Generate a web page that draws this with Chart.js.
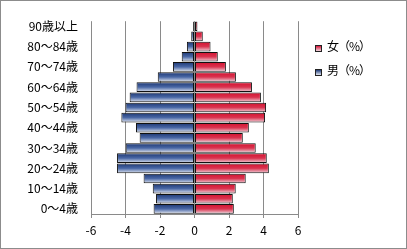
<!DOCTYPE html>
<html>
<head>
<meta charset="utf-8">
<script src="https://cdn.jsdelivr.net/npm/chart.js@4/dist/chart.umd.min.js"></script>
<style>
  html, body { margin: 0; padding: 0; background: #fff; }
  .wrap { position: relative; width: 407px; height: 249px; box-sizing: border-box; border: 1px solid #8c8c8c; }
  .legend { position: absolute; left: 314px; top: 36px; font: 12px "Noto Sans CJK JP", sans-serif; color: #000; }
  .legend div { height: 24px; line-height: 17px; white-space: nowrap; letter-spacing: -1px; }
  .legend span.box { display: inline-block; width: 5px; height: 5px; border: 1px solid #222; margin-right: 5px; vertical-align: -1px; }
</style>
</head>
<body>
<div class="wrap">
  <canvas id="myChart"></canvas>
  <div class="legend">
    <div><span class="box" style="background: linear-gradient(#d8163a, #f0d6de);"></span>女（%）</div>
    <div><span class="box" style="background: linear-gradient(#1e3a78, #e2e7f2);"></span>男（%）</div>
  </div>
</div>
<script>
// 年齢階級（下から上）
const ageGroups = ["0～4歳", "5～9歳", "10～14歳", "15～19歳", "20～24歳", "25～29歳", "30～34歳", "35～39歳", "40～44歳", "45～49歳",
  "50～54歳", "55～59歳", "60～64歳", "65～69歳", "70～74歳", "75～79歳", "80～84歳", "85～89歳", "90歳以上"];
// 男は左側なのでマイナス
const male = [-2.37, -2.23, -2.42, -2.95, -4.49, -4.49, -3.99, -3.18, -3.39, -4.24, -4.0, -3.76, -3.36, -2.13, -1.25, -0.74, -0.44, -0.19, -0.08];
const female = [2.28, 2.22, 2.39, 2.97, 4.31, 4.19, 3.55, 2.8, 3.15, 4.09, 4.15, 3.85, 3.33, 2.4, 1.82, 1.35, 0.93, 0.48, 0.17];
const xTicks = [-6, -4, -2, 0, 2, 4, 6];

const redStops = [[0, "#d4102e"], [0.5, "#da3450"], [1, "#f0d6de"]];
const blueStops = [[0, "#1c3672"], [0.5, "#4a68a6"], [1, "#e2e7f2"]];

// 棒ごとに縦グラデーション
const barFill = (stops) => (ctx) => {
  const chart = ctx.chart;
  const area = chart.chartArea;
  if (!area || !chart.scales.y) return stops[1][1];
  const y = chart.scales.y.getPixelForValue(ctx.dataIndex);
  const h = ((area.bottom - area.top) / ageGroups.length) * 0.95;
  const g = chart.ctx.createLinearGradient(0, y - h / 2, 0, y + h / 2);
  stops.forEach((s) => g.addColorStop(s[0], s[1]));
  return g;
};

const ctx = document.getElementById("myChart").getContext("2d");
const canvas = document.getElementById("myChart");
canvas.style.width = "405px";
canvas.style.height = "247px";

const pyramidChart = new Chart(ctx, {
  type: "bar",
  data: {
    labels: ageGroups,
    datasets: [
      {
        label: "女（%）",
        data: female,
        backgroundColor: barFill(redStops),
        borderColor: "#111",
        borderWidth: 1,
        borderSkipped: false,
        barPercentage: 0.95,
        categoryPercentage: 1,
      },
      {
        label: "男（%）",
        data: male,
        backgroundColor: barFill(blueStops),
        borderColor: "#111",
        borderWidth: 1,
        borderSkipped: false,
        barPercentage: 0.95,
        categoryPercentage: 1,
      },
    ],
  },
  options: {
    responsive: false,
    animation: false,
    indexAxis: "y",
    layout: { padding: { left: 0, top: 10, right: 108, bottom: 0 } },
    plugins: {
      legend: { display: false },
      tooltip: { enabled: false },
    },
    scales: {
      x: {
        stacked: true,
        min: -6,
        max: 6,
        afterBuildTicks: (scale) => {
          scale.ticks = xTicks.map((v) => ({ value: v }));
        },
        afterFit: (scale) => {
          scale.height = 34;
        },
        grid: { color: "#8a8a8a", lineWidth: 1, tickLength: 4 },
        border: { color: "#8a8a8a" },
        ticks: {
          color: "#000",
          padding: 5,
          font: { family: "Noto Sans CJK JP", size: 12 },
        },
      },
      y: {
        stacked: true,
        reverse: true,
        afterFit: (scale) => {
          scale.width = 90;
        },
        grid: { display: false, drawTicks: false },
        border: { display: false },
        ticks: {
          color: "#000",
          padding: 13,
          autoSkip: false,
          font: { family: "Noto Sans CJK JP", size: 12 },
          callback: function (value, index) {
            return index % 2 === 0 ? this.getLabelForValue(value) : "";
          },
        },
      },
    },
  },
});
</script>
</body>
</html>
